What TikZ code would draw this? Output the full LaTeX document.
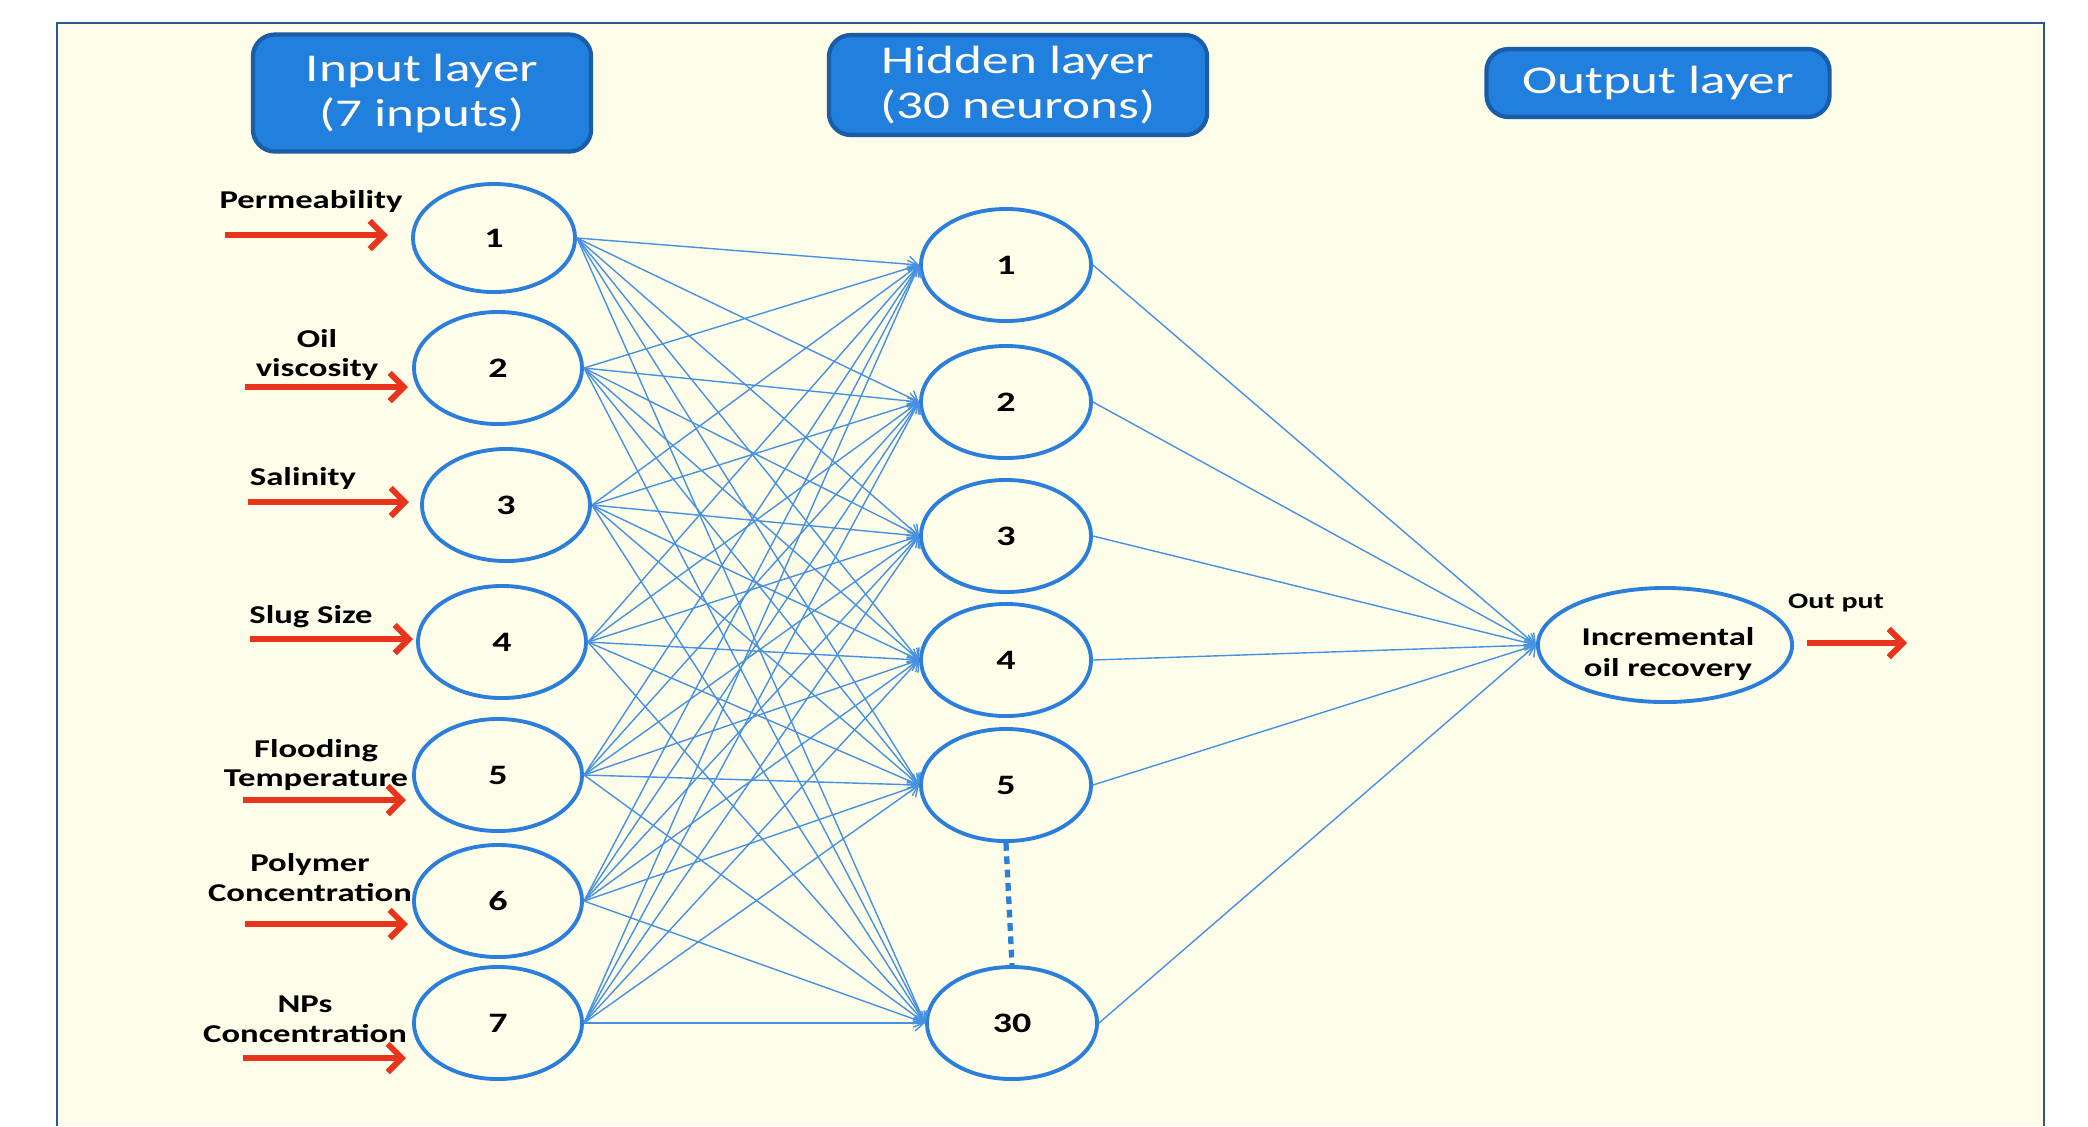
\documentclass[tikz,border=0pt]{standalone}
\usepackage{fontspec}
\setmainfont{Carlito}[FakeStretch=1.35]
\usetikzlibrary{shapes.geometric,arrows.meta}
\definecolor{bgc}{RGB}{254,253,233}
\definecolor{framec}{RGB}{47,85,151}
\definecolor{hdfill}{RGB}{33,128,222}
\definecolor{hdbord}{RGB}{27,92,168}
\definecolor{hdtext}{RGB}{255,250,236}
\definecolor{nblue}{RGB}{43,127,219}
\definecolor{lblue}{RGB}{70,145,226}
\definecolor{redc}{RGB}{232,52,28}
\begin{document}
\begin{tikzpicture}[x=0.01cm,y=-0.01cm,
  neuron/.style={ellipse, draw=nblue, line width=1.1pt, fill=bgc, minimum width=1.68cm, minimum height=1.12cm, inner sep=0pt, font=\bfseries\fontsize{8}{9}\selectfont},
  hdr/.style={draw=hdbord, fill=hdfill, line width=1.2pt, rounded corners=0.22cm, text=hdtext, align=center, font=\fontsize{11.2}{12.8}\selectfont, inner sep=0pt},
  conn/.style={draw=lblue, line width=0.4pt, -{Straight Barb[length=2.5pt,width=4.5pt]}},
  redarr/.style={draw=redc, line width=1.7pt, -{Straight Barb[length=4pt,width=8pt]}},
  lbl/.style={font=\bfseries\fontsize{7.3}{8.5}\selectfont, align=center, inner sep=0pt}
]
\useasboundingbox (0,0) rectangle (2088,1126);
\fill[white] (0,0) rectangle (2088,1126);
\fill[bgc] (57,23) rectangle (2044,1126);
\draw[framec, line width=0.6pt] (57,1126) -- (57,23) -- (2044,23) -- (2044,1126);

% headers
\node[hdr, minimum width=3.38cm, minimum height=1.17cm] (hin) at (422,93) {Input layer\\(7 inputs)};
\node[hdr, minimum width=3.78cm, minimum height=1.00cm] (hhid) at (1018,85) {Hidden layer\\(30 neurons)};
\node[hdr, minimum width=3.43cm, minimum height=0.68cm] (hout) at (1658,83) {Output layer};

% input neurons
\node[neuron, minimum width=1.62cm, minimum height=1.08cm] (in1) at (494,238) {1};
\node[neuron] (in2) at (498,368) {2};
\node[neuron] (in3) at (506,505) {3};
\node[neuron] (in4) at (502,642) {4};
\node[neuron] (in5) at (498,775) {5};
\node[neuron] (in6) at (498,901) {6};
\node[neuron] (in7) at (498,1023) {7};

% hidden neurons
\node[neuron, minimum width=1.70cm] (h1) at (1006,265) {1};
\node[neuron, minimum width=1.70cm] (h2) at (1006,402) {2};
\node[neuron, minimum width=1.70cm] (h3) at (1006,536) {3};
\node[neuron, minimum width=1.70cm] (h4) at (1006,660) {4};
\node[neuron, minimum width=1.70cm] (h5) at (1006,785) {5};
\node[neuron, minimum width=1.70cm] (h30) at (1012,1023) {30};

% output neuron
\node[neuron, minimum width=2.54cm, minimum height=1.14cm] (out) at (1665,645) {};
\node[lbl, font=\bfseries\fontsize{7.3}{8.9}\selectfont] (outtxt) at (1668,654) {Incremental\\oil recovery};

% connections
\foreach \i in {1,...,7}
  \foreach \j in {1,2,3,4,5,30}
    \draw[conn] (in\i.east) -- (h\j.west);
\foreach \j in {1,2,3,4,5,30}
  \draw[conn] (h\j.east) -- (out.west);

% dotted
\draw[nblue, line width=1.5pt, dash pattern=on 2.2pt off 1.6pt] (h5.south) -- (h30.north);

% input labels
\node[lbl] (l1) at (311,201) {Permeability};
\node[lbl] (l2) at (317,355) {Oil\\viscosity};
\node[lbl] (l3) at (303,478) {Salinity};
\node[lbl] (l4) at (311,617) {Slug Size};
\node[lbl] (l5) at (316,765) {Flooding\\Temperature};
\node[lbl] (l6) at (310,878) {Polymer\\Concentration};
\node[lbl] (l7) at (305,1019) {NPs\\Concentration};

% red arrows
\coordinate (a1s) at (225,235); \coordinate (a1e) at (388,235);
\coordinate (a2s) at (245,387); \coordinate (a2e) at (408,387);
\coordinate (a3s) at (248,502); \coordinate (a3e) at (409,502);
\coordinate (a4s) at (250,639); \coordinate (a4e) at (413,639);
\coordinate (a5s) at (243,800); \coordinate (a5e) at (406,800);
\coordinate (a6s) at (245,924); \coordinate (a6e) at (408,924);
\coordinate (a7s) at (243,1058); \coordinate (a7e) at (406,1058);
\foreach \k in {1,...,7} \draw[redarr] (a\k s) -- (a\k e);

% output arrow
\node[lbl, font=\bfseries\fontsize{6.3}{7}\selectfont] (olbl) at (1836,603) {Out put};
\coordinate (oas) at (1807,643); \coordinate (oae) at (1907,643);
\draw[redarr] (oas) -- (oae);
\end{tikzpicture}
\end{document}
